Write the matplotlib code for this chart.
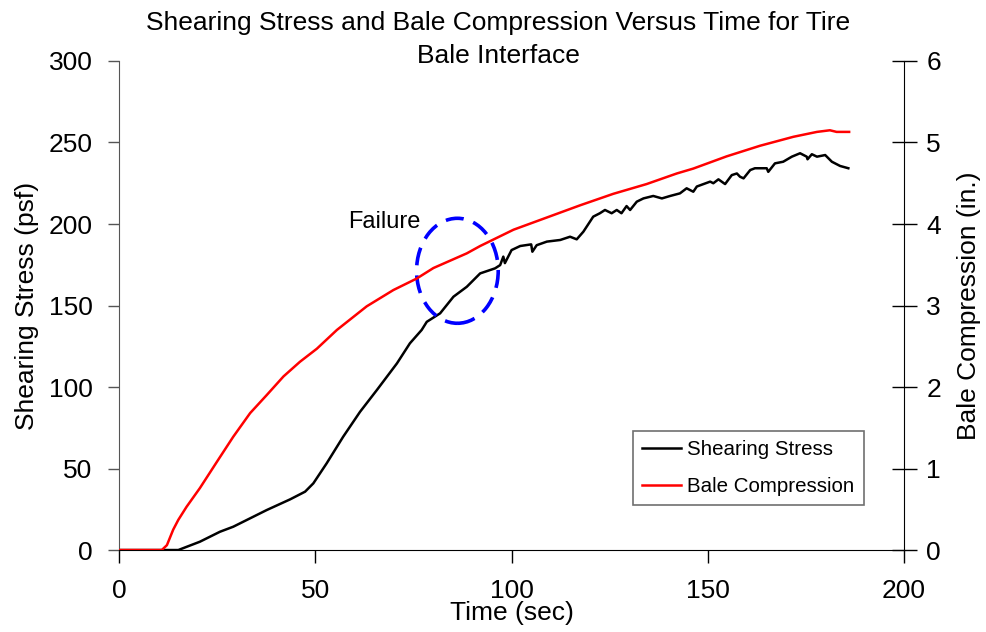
import matplotlib
matplotlib.use("Agg")
import matplotlib.pyplot as plt
from matplotlib.patches import Ellipse

plt.rcParams['font.family'] = ['Liberation Sans', 'DejaVu Sans']

# Shearing stress record (psf) versus time (sec)
shear_time = [0, 15.1, 20.6, 25.7, 29.1, 37.6, 43.6, 47.4, 49.5, 52.9, 57.1,
              61.4, 65.7, 70.8, 74.1, 77.1, 78.4, 81.8, 85.2, 88.6, 92.0,
              95.8, 97.1, 97.9, 98.3, 100.0, 102.2, 105.0, 105.3, 106.4,
              109.0, 112.4, 114.9, 116.6, 118.3, 120.8, 122.5, 123.8, 125.5,
              126.8, 128.0, 129.3, 130.2, 131.9, 133.6, 136.1, 138.3, 140.4,
              142.9, 144.6, 146.3, 147.2, 148.9, 150.6, 151.4, 152.7, 154.4,
              156.1, 157.4, 158.2, 159.1, 160.8, 162.0, 165.0, 165.4, 167.1,
              169.2, 171.4, 173.5, 175.2, 175.4, 176.5, 177.8, 179.9, 181.6,
              183.7, 185.8]
shear_psf = [0, 0, 5.1, 11.2, 14.3, 24.5, 31.1, 35.8, 40.9, 53.2, 69.5,
             84.8, 98.2, 114.5, 126.8, 135.0, 140.0, 145.2, 155.4, 161.5, 169.7,
             172.8, 174.8, 180.0, 176.0, 184.0, 186.5, 187.5, 183.0, 187.0,
             189.2, 190.2, 192.2, 190.6, 195.3, 204.5, 206.6, 208.6, 206.6,
             208.6, 206.6, 211.0, 208.6, 213.7, 215.7, 217.2, 215.7, 217.2,
             218.8, 221.9, 219.8, 223.0, 224.5, 226.0, 225.0, 227.4, 224.5,
             230.0, 231.0, 229.0, 228.0, 233.1, 234.2, 234.2, 232.0, 237.2,
             238.2, 241.3, 243.4, 241.3, 239.7, 242.8, 241.3, 242.3, 238.2,
             235.6, 234.2]

# Bale compression record (in.) versus time (sec)
comp_time = [0, 10.9, 12.2, 13.8, 15.1, 17.2, 20.6, 24.9, 29.1, 33.4, 37.6,
             41.9, 46.1, 50.4, 55.5, 63.1, 69.9, 75.8, 80.1, 88.6, 92.0,
             100.5, 109.0, 117.5, 125.9, 134.4, 142.1, 146.3, 154.8, 163.3,
             171.8, 177.8, 181.1, 182.8, 186.0]
comp_in = [0, 0, 0.06, 0.25, 0.37, 0.53, 0.76, 1.08, 1.39, 1.68, 1.90,
           2.13, 2.31, 2.47, 2.70, 2.99, 3.19, 3.33, 3.46, 3.64, 3.73,
           3.93, 4.08, 4.23, 4.37, 4.49, 4.62, 4.68, 4.83, 4.96,
           5.07, 5.13, 5.15, 5.13, 5.13]

x_ticks = [0, 50, 100, 150, 200]
left_ticks = [0, 50, 100, 150, 200, 250, 300]
right_ticks = [0, 1, 2, 3, 4, 5, 6]

# Failure zone marker (time, stress, width, height)
failure_center = (86.2, 171.3)
failure_size = (20.8, 64.4)

fig = plt.figure(figsize=(9.87, 6.32), dpi=100)
ax = fig.add_axes([0.1206, 0.1297, 0.7954, 0.7738])
ax2 = ax.twinx()

l1, = ax.plot(shear_time, shear_psf, color='black', lw=1.8, label='Shearing Stress')
l2, = ax2.plot(comp_time, comp_in, color='#ff0000', lw=1.8, label='Bale Compression')

ax.set_xlim(0, 200)
ax.set_ylim(0, 300)
ax2.set_ylim(0, 6)
ax.set_xticks(x_ticks)
ax.set_yticks(left_ticks)
ax2.set_yticks(right_ticks)

for s in ['top', 'right']:
    ax.spines[s].set_visible(False)
for s in ['top', 'left', 'bottom']:
    ax2.spines[s].set_visible(False)
ax.spines['left'].set_color('#555555')
ax.spines['bottom'].set_color('black')
ax2.spines['right'].set_color('black')

fs = 19
ax.tick_params(axis='x', direction='out', length=9, width=1, pad=12, labelsize=fs, colors='black')
ax.tick_params(axis='y', direction='out', length=8, width=1, pad=11, labelsize=fs,
               color='#555555', labelcolor='black')
ax2.tick_params(axis='y', direction='inout', length=18, width=1, pad=7, labelsize=fs)

ax.set_xlabel('Time (sec)', fontsize=fs)
ax.xaxis.set_label_coords(0.5, -0.105)
ax.set_ylabel('Shearing Stress (psf)', fontsize=fs)
ax.yaxis.set_label_coords(-0.102, 0.5)
ax2.set_ylabel('Bale Compression (in.)', fontsize=fs)
ax2.yaxis.set_label_coords(1.067, 0.5)

fig.text(0.5046, 0.9375, 'Shearing Stress and Bale Compression Versus Time for Tire\nBale Interface',
         ha='center', va='center', fontsize=fs, linespacing=1.5)

ell = Ellipse(failure_center, failure_size[0], failure_size[1], fill=False,
              edgecolor='#0000ff', lw=2.6, linestyle=(0, (5, 2.8)), zorder=5)
ax.add_patch(ell)
ax.text(58.3, 201.4, 'Failure', fontsize=17, ha='left', va='center')

leg = ax.legend([l1, l2], ['Shearing Stress', 'Bale Compression'],
                loc='upper left', bbox_to_anchor=(633 / 987, 1 - 431 / 632),
                bbox_transform=fig.transFigure, borderaxespad=0, fontsize=14.8,
                fancybox=False, framealpha=1, edgecolor='#707070',
                handlelength=1.9, handletextpad=0.3, labelspacing=0.85,
                borderpad=0.45)
leg.get_frame().set_linewidth(1.2)

fig.savefig('out.png', dpi=100)
